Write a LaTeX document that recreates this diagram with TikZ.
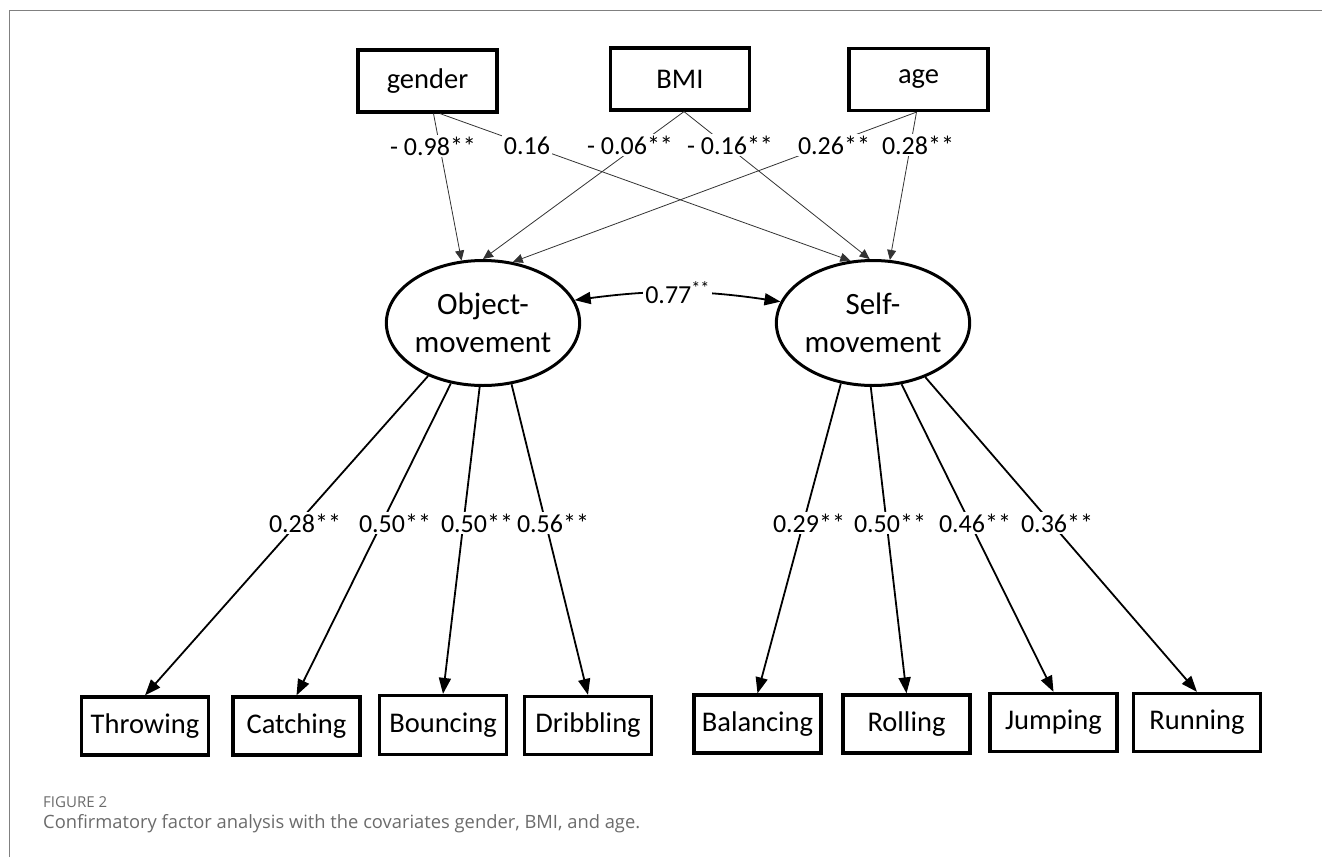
\documentclass[tikz,border=0pt]{standalone}
\usepackage{fontspec}
\setmainfont{Carlito}
\newfontfamily\capfont{Open Sans}
\usetikzlibrary{arrows.meta,calc,shapes.geometric}
\begin{document}
\begin{tikzpicture}[x=1pt,y=-1pt,
  covbox/.style={draw, line width=3.2pt, minimum width=139pt, minimum height=62pt, inner sep=0pt, font=\fontsize{28.5}{32}\selectfont},
  indbox/.style={draw, line width=3.2pt, minimum width=127pt, minimum height=58pt, inner sep=0pt, font=\fontsize{28.5}{32}\selectfont},
  latent/.style={draw, ellipse, line width=3pt, minimum width=193pt, minimum height=125pt, inner sep=0pt, align=center, font=\fontsize{31}{38}\selectfont},
  lab/.style={fill=white, inner sep=2pt, font=\fontsize{26}{30}\selectfont},
  regline/.style={line width=0.8pt, black!80, -{Triangle[length=10pt,width=9pt]}},
  loadline/.style={line width=1.8pt, -{Triangle[length=16pt,width=12pt]}},
  corrline/.style={line width=1.8pt, {Triangle[length=16pt,width=12pt]}-{Triangle[length=16pt,width=12pt]}},
  frameline/.style={draw=black!50, line width=1.2pt},
  captext/.style={anchor=base west, inner sep=0pt, text=black!58, font=\capfont}
]
\useasboundingbox (0,0) rectangle (1322,857);
% frame
\draw[frameline] (9.5,857) -- (9.5,10.5) -- (1322,10.5);

% covariates
\node[covbox] (gender) at (427.5,81) {gender};
\node[covbox] (bmi) at (680,79) {BMI};
\node[covbox] (age) at (918.5,79.5) {age};

% latent factors
\node[latent] (obj) at (483,323) {Object-\\movement};
\node[latent] (self) at (873,323) {Self-\\movement};

% indicators
\node[indbox] (throw) at (145,726) {Throwing};
\node[indbox] (catch) at (296.5,726) {Catching};
\node[indbox, minimum height=59pt] (bounce) at (443,725) {Bouncing};
\node[indbox] (dribble) at (588,725.5) {Dribbling};
\node[indbox] (balance) at (757.5,724) {Balancing};
\node[indbox] (roll) at (906.5,724) {Rolling};
\node[indbox] (jump) at (1053.5,722.5) {Jumping};
\node[indbox] (run) at (1197,722.5) {Running};

% regressions on covariates
\draw[regline] ($(gender.south)+(6,0)$) -- (obj.109);
\draw[regline] ($(gender.south)+(12.5,0)$) -- (self.110);
\draw[regline] ($(bmi.south)+(4,0)$) -- (obj.90);
\draw[regline] ($(bmi.south)+(4,0)$) -- (self.93);
\draw[regline] ($(age.south)+(-2,0)$) -- (obj.64);
\draw[regline] ($(age.south)+(-2,0)$) -- (self.75);

% loadings
\draw[loadline] (obj.224.5) -- (throw.north);
\draw[loadline] (obj.242.4) -- (catch.north);
\draw[loadline] (obj.267) -- (bounce.north);
\draw[loadline] (obj.295.5) -- (dribble.north);
\draw[loadline] (self.242) -- (balance.north);
\draw[loadline] (self.268) -- (roll.north);
\draw[loadline] (self.295.5) -- (jump.north);
\draw[loadline] (self.314) -- (run.north);

% covariance
\draw[corrline] (obj.14) to[bend left=8] node[lab] (l77) {0.77\textsuperscript{**}} (self.167);

% regression labels
\node[lab] (lg1) at (433,146) {- 0.98**};
\node[lab] (lg2) at (527,146) {0.16};
\node[lab] (lb1) at (630,145) {- 0.06**};
\node[lab] (lb2) at (730,145) {- 0.16**};
\node[lab] (la1) at (834,145) {0.26**};
\node[lab] (la2) at (918,145) {0.28**};

% loading labels
\node[lab] (t1) at (305,523) {0.28**};
\node[lab] (t2) at (395,523) {0.50**};
\node[lab] (t3) at (477,523) {0.50**};
\node[lab] (t4) at (553,523) {0.56**};
\node[lab] (t5) at (809,523) {0.29**};
\node[lab] (t6) at (890,523) {0.50**};
\node[lab] (t7) at (975,523) {0.46**};
\node[lab] (t8) at (1057,523) {0.36**};

% caption
\node[captext] (figno) at (43,807) {\resizebox{64pt}{!}{FIGURE 2}};
\node[captext] (caption) at (43,828) {\resizebox{597pt}{!}{Confirmatory factor analysis with the covariates gender, BMI, and age.}};
\end{tikzpicture}
\end{document}
